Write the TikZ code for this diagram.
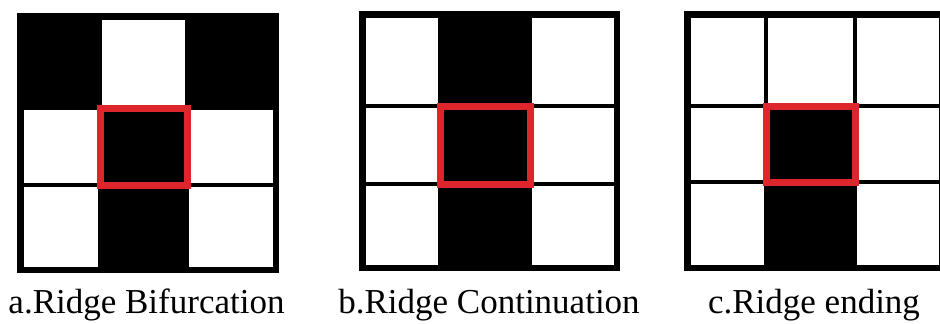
\documentclass[tikz,border=0pt]{standalone}
\usepackage{fontspec}
\setmainfont{Liberation Serif}
\usetikzlibrary{positioning}

\definecolor{ridgered}{RGB}{220,38,44}
% white cell, inset by half an inner grid line
\newcommand{\wcell}[4]{\fill[white] (#1+1.6,#2+1.6) rectangle (#3-1.6,#4-1.6);}

\begin{document}
\begin{tikzpicture}[
  x=1pt, y=-1pt,
  font=\fontsize{35}{40}\selectfont,
  gridframe/.style={draw=black, line width=6.5pt},
  ridgebox/.style={draw=ridgered, line width=7pt},
  caption/.style={anchor=base, inner sep=0pt}
]
\useasboundingbox (0,0) rectangle (940,324);
\clip (0,0) rectangle (940,324);

% a: bifurcation
\fill[black] (17,13) rectangle (279,273);
\wcell{100}{13}{187}{108}
\wcell{17}{108}{100}{185}
\wcell{187}{108}{279}{185}
\wcell{17}{185}{100}{273}
\wcell{187}{185}{279}{273}
\draw[gridframe] (20.25,16.25) rectangle (275.75,269.75);
\draw[ridgebox] (100,108) rectangle (187,185);

% b: continuation
\fill[black] (359,11) rectangle (620,271);
\foreach \ya/\yb in {11/106, 106/184, 184/271}{
  \wcell{359}{\ya}{440}{\yb}
  \wcell{530}{\ya}{620}{\yb}
}
\draw[gridframe] (362.25,14.25) rectangle (616.75,267.75);
\draw[ridgebox] (440,106) rectangle (530,184);

% c: ending
\fill[black] (684,11) rectangle (945,271);
\wcell{684}{11}{766}{106}
\wcell{766}{11}{855}{106}
\wcell{855}{11}{945}{106}
\wcell{684}{106}{766}{182}
\wcell{855}{106}{945}{182}
\wcell{684}{182}{766}{271}
\wcell{855}{182}{945}{271}
\draw[gridframe] (687.25,14.25) rectangle (941.75,267.75);
\draw[ridgebox] (766,106) rectangle (855,182);

\node[caption] (labA) at (146.5,313) {a.Ridge Bifurcation};
\node[caption] (labB) at (489,313) {b.Ridge Continuation};
\node[caption] (labC) at (814,313) {c.Ridge ending};
\end{tikzpicture}
\end{document}
